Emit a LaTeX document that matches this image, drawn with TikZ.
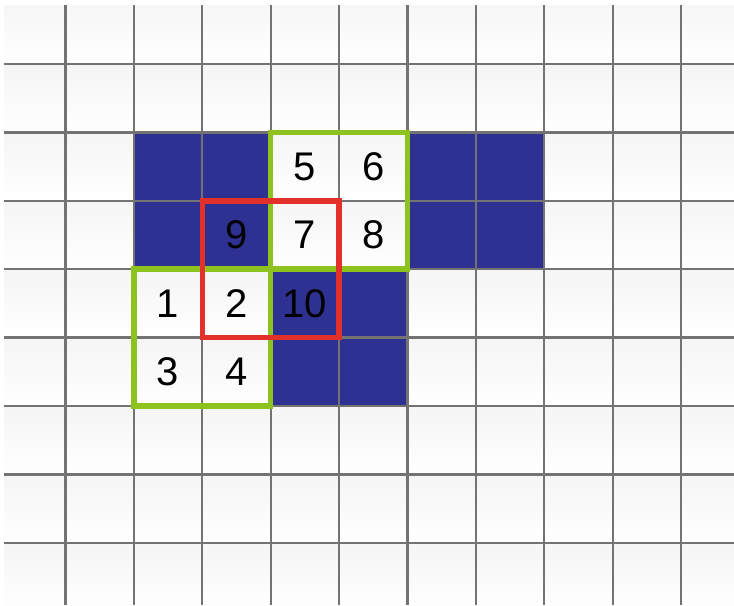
\documentclass[tikz,border=0pt]{standalone}
\usepackage{fontspec}
\setmainfont{Liberation Sans}
\definecolor{cellblue}{HTML}{2E3192}
\definecolor{gridgray}{HTML}{737373}
\definecolor{boxgreen}{HTML}{8DC21F}
\definecolor{boxred}{HTML}{E3302A}
\tikzset{
  gridline/.style={draw=gridgray, line width=2.3pt},
  bluecell/.style={fill=cellblue},
  greenbox/.style={draw=boxgreen, line width=5.5pt},
  redbox/.style={draw=boxred, line width=5.5pt},
  num/.style={font=\fontsize{40}{40}\selectfont, text=black, inner sep=0pt},
}
\begin{document}
\begin{tikzpicture}[x=68.4pt, y=-68.4pt]
\useasboundingbox (-0.9576,-0.9357) rectangle (9.773,7.909);
\fill[white] (-0.9576,-0.9357) rectangle (9.773,7.909);
\begin{scope}
  \clip (-0.899,-0.8626) rectangle (9.773,7.909);
  \foreach \i in {-1,...,9} {
    \foreach \j in {-1,...,7} {
      \shade[top color=black!4, bottom color=white] (\i,\j) rectangle (\i+1,\j+1);
    }
  }
  % blue cells
  \foreach \c/\r in {1/1,2/1,5/1,6/1,1/2,2/2,5/2,6/2,3/3,4/3,3/4,4/4} {
    \fill[bluecell] (\c,\r) rectangle (\c+1,\r+1);
  }
  % grid lines
  \foreach \k in {0,...,9} {
    \draw[gridline] (\k,-0.8626) -- (\k,7.909);
  }
  \foreach \k in {0,...,7} {
    \draw[gridline] (-0.899,\k) -- (9.773,\k);
  }
\end{scope}
% numbers
\node[num] (n5) at (3.5,1.5) {5};
\node[num] (n6) at (4.5,1.5) {6};
\node[num] (n9) at (2.5,2.5) {9};
\node[num] (n7) at (3.5,2.5) {7};
\node[num] (n8) at (4.5,2.5) {8};
\node[num] (n1) at (1.5,3.5) {1};
\node[num] (n2) at (2.5,3.5) {2};
\node[num] (n10) at (3.5,3.5) {10};
\node[num] (n3) at (1.5,4.5) {3};
\node[num] (n4) at (2.5,4.5) {4};
% windows
\draw[greenbox] (3,1) rectangle (5,3);
\draw[greenbox] (1,3) rectangle (3,5);
\draw[redbox] (2,2) rectangle (4,4);
\end{tikzpicture}
\end{document}
